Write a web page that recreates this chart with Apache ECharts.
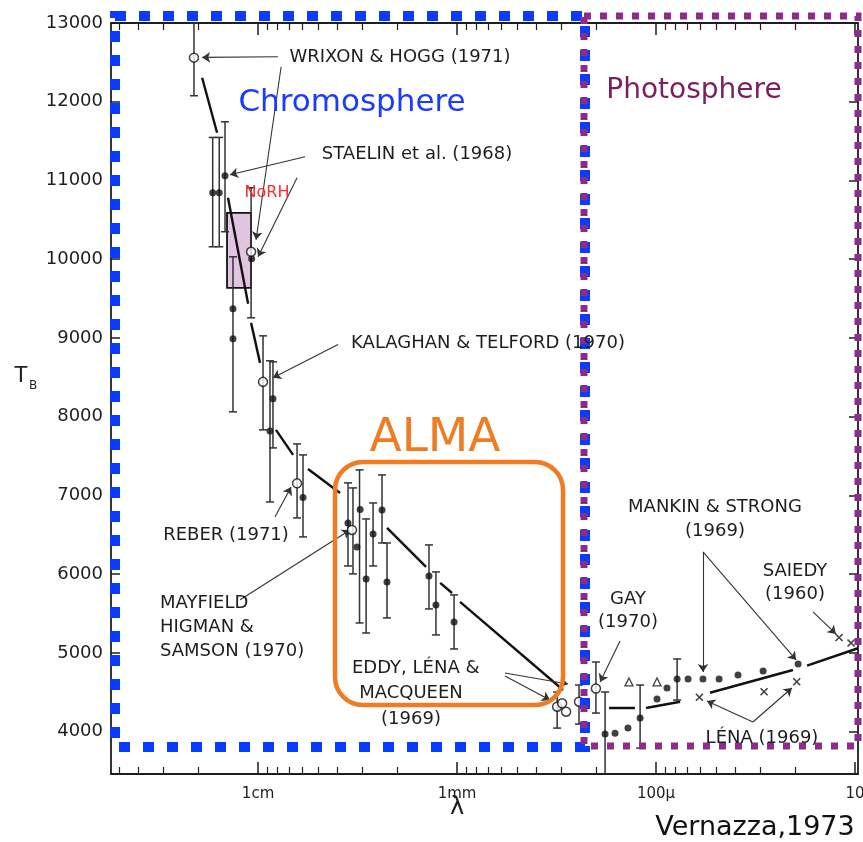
<!DOCTYPE html>
<html>
<head>
<meta charset="utf-8">
<script src="https://cdn.jsdelivr.net/npm/echarts@6/dist/echarts.min.js"></script>
<style>
  html, body { margin: 0; padding: 0; background: #fff; }
  #chart { width: 863px; height: 842px; }
</style>
</head>
<body>
<div id="chart"></div>
<script>
'use strict';

// x = log10(wavelength in microns), y = brightness temperature (K)
var X_MIN = 0.985, X_MAX = 4.739;
var Y_MIN = 3463, Y_MAX = 13000;

var xLabelValues = [4, 3, 2, 1];
var xLabelNames = ['1cm', '1mm', '100\u03bc', '10'];
var yLabelValues = [4000, 5000, 6000, 7000, 8000, 9000, 10000, 11000, 12000, 13000];

// measured points
var dots = [
  [4.228, 10844], [4.195, 10844], [4.166, 11060], [4.126, 9370], [4.126, 8989],
  [4.032, 10006], [3.940, 7820], [3.925, 8227], [3.774, 6975],
  [3.548, 6651], [3.487, 6823], [3.503, 6347], [3.457, 5940], [3.422, 6511],
  [3.377, 6816], [3.352, 5902], [3.141, 5978], [3.106, 5610], [3.015, 5394],
  [2.256, 3970], [2.206, 3982], [2.141, 4046], [2.080, 4174], [1.995, 4415],
  [1.945, 4555], [1.894, 4669], [1.839, 4669], [1.764, 4669], [1.683, 4669],
  [1.588, 4720], [1.462, 4771], [1.286, 4860]
];
var circles = [
  [4.322, 12560], [4.035, 10094], [3.975, 8443], [3.804, 7154], [3.528, 6562],
  [2.497, 4318], [2.472, 4361], [2.452, 4254], [2.387, 4381], [2.302, 4549]
];
var triangles = [[2.136, 4632], [1.995, 4632]];
var crosses = [[1.782, 4437], [1.457, 4508], [1.293, 4635], [1.080, 5197], [1.020, 5127]];

// error bars: [x, low, high]
var bars = [
  [4.322, 12076, 13000], [4.228, 10158, 11547], [4.195, 10158, 11547],
  [4.166, 10349, 11746], [4.126, 8062, 10031], [4.035, 9256, 10908],
  [3.975, 7833, 9027], [3.940, 6918, 8710], [3.925, 7604, 8697],
  [3.804, 6715, 7655], [3.774, 6474, 7515],
  [3.548, 6105, 7160], [3.523, 6004, 7096], [3.490, 5381, 7325],
  [3.457, 5254, 6702], [3.422, 6105, 6905], [3.377, 6397, 7261],
  [3.352, 5445, 6397], [3.141, 5559, 6372], [3.106, 5229, 6029],
  [3.015, 5051, 5737],
  [2.497, 4046, 4504], [2.387, 4097, 4593], [2.302, 4237, 4885],
  [2.256, 3463, 4504], [2.080, 3792, 4593], [1.894, 4402, 4924]
];

// model curve, drawn in pieces
var curve = [
  [[4.281, 12305], [4.206, 11606]],
  [[4.151, 10781], [4.050, 9434]],
  [[4.035, 9192], [3.990, 8684]],
  [[3.910, 7833], [3.824, 7515]],
  [[3.749, 7337], [3.588, 7032]],
  [[3.352, 6588], [3.156, 6093]],
  [[3.085, 5890], [3.025, 5762]],
  [[2.985, 5648], [2.467, 4530]],
  [[2.236, 4301], [2.106, 4301]],
  [[2.050, 4301], [1.879, 4381]],
  [[1.729, 4495], [1.312, 4784]],
  [[1.241, 4838], [0.985, 5060]]
];

// label pointers
var arrows = [
  [[3.900, 12572], [4.281, 12563]],
  [[3.884, 12445], [4.010, 10247]],
  [[3.764, 11301], [4.141, 11073]],
  [[3.804, 11035], [4.000, 10031]],
  [[3.598, 8916], [3.925, 8494]],
  [[3.915, 6727], [3.834, 7109]],
  [[4.090, 5675], [3.538, 6562]],
  [[2.759, 4746], [2.442, 4606]],
  [[2.759, 4708], [2.533, 4402]],
  [[2.181, 5152], [2.281, 4631]],
  [[1.764, 6283], [1.764, 4758]],
  [[1.764, 6283], [1.296, 4911]],
  [[1.211, 5522], [1.096, 5242]],
  [[1.513, 4123], [1.744, 4390]],
  [[1.513, 4123], [1.317, 4555]]
];

// NoRH box [x1, y1], [x2, y2]
var norhBox = [[4.156, 10590], [4.035, 9637]];

// minor ticks of the log axis
var minorTicks = [];
for (var k = 1; k <= 4; k++) {
  for (var m = 2; m <= 9; m++) {
    var v = k + Math.log10(m);
    if (v > X_MIN && v < X_MAX) minorTicks.push(v);
  }
}

var FONT = '"DejaVu Sans", sans-serif';
var INK = '#1e1e1e';

function renderBar(params, api) {
  var x = api.value(0), lo = api.value(1), hi = api.value(2);
  var top = api.coord([x, hi]);
  var bot = api.coord([x, Math.max(lo, Y_MIN)]);
  var cap = 4;
  var st = { stroke: '#333', lineWidth: 1.5 };
  var kids = [
    { type: 'line', shape: { x1: top[0], y1: top[1], x2: bot[0], y2: bot[1] }, style: st },
    { type: 'line', shape: { x1: top[0] - cap, y1: top[1], x2: top[0] + cap, y2: top[1] }, style: st }
  ];
  if (lo > Y_MIN) {
    kids.push({ type: 'line', shape: { x1: bot[0] - cap, y1: bot[1], x2: bot[0] + cap, y2: bot[1] }, style: st });
  }
  return { type: 'group', children: kids };
}

function txt(s, x, y, size, color, align, weight) {
  return {
    type: 'text', z: 100,
    style: {
      text: s, x: x, y: y,
      font: (weight || 'normal') + ' ' + size + 'px ' + FONT,
      fill: color || INK,
      textAlign: align || 'center',
      textVerticalAlign: 'middle'
    }
  };
}

var axisLine = { show: true, lineStyle: { color: INK, width: 1.8 } };
var LBL = 18;

var chart = echarts.init(document.getElementById('chart'));
var option = {
  animation: false,
  backgroundColor: '#fff',
  grid: { left: 111, right: 5, top: 23, bottom: 68, containLabel: false, outerBoundsMode: 'none' },
  xAxis: [
    {
      type: 'value', min: X_MIN, max: X_MAX, inverse: true, position: 'bottom',
      axisLine: axisLine, splitLine: { show: false },
      axisTick: { inside: true, length: 12, customValues: xLabelValues, lineStyle: { color: INK, width: 1.5 } },
      axisLabel: {
        customValues: xLabelValues, margin: 13, color: INK, fontSize: 15, fontFamily: FONT,
        formatter: function (v) { return xLabelNames[xLabelValues.indexOf(Math.round(v))]; }
      }
    },
    {
      type: 'value', min: X_MIN, max: X_MAX, inverse: true, position: 'bottom',
      axisLine: { show: false }, splitLine: { show: false }, axisLabel: { show: false },
      axisTick: { inside: true, length: 7, customValues: minorTicks, lineStyle: { color: INK, width: 1.2 } }
    },
    {
      type: 'value', min: X_MIN, max: X_MAX, inverse: true, position: 'top',
      axisLine: axisLine, splitLine: { show: false }, axisLabel: { show: false },
      axisTick: { inside: true, length: 12, customValues: xLabelValues, lineStyle: { color: INK, width: 1.5 } }
    },
    {
      type: 'value', min: X_MIN, max: X_MAX, inverse: true, position: 'top',
      axisLine: { show: false }, splitLine: { show: false }, axisLabel: { show: false },
      axisTick: { inside: true, length: 7, customValues: minorTicks, lineStyle: { color: INK, width: 1.2 } }
    }
  ],
  yAxis: [
    {
      type: 'value', min: Y_MIN, max: Y_MAX, position: 'left',
      axisLine: axisLine, splitLine: { show: false },
      axisTick: { inside: true, length: 9, customValues: yLabelValues, lineStyle: { color: INK, width: 1.5 } },
      axisLabel: {
        customValues: yLabelValues, margin: 8, color: INK, fontSize: 18, fontFamily: FONT,
        formatter: function (v) { return String(Math.round(v)); }
      }
    },
    {
      type: 'value', min: Y_MIN, max: Y_MAX, position: 'right',
      axisLine: axisLine, splitLine: { show: false }, axisLabel: { show: false },
      axisTick: { inside: true, length: 9, customValues: yLabelValues, lineStyle: { color: INK, width: 1.5 } }
    }
  ],
  series: [
    {
      type: 'custom', name: 'bars', renderItem: renderBar, data: bars,
      encode: { x: 0, y: [1, 2] }, z: 3,
      markArea: {
        silent: true,
        itemStyle: { color: 'rgba(205,160,205,0.62)', borderColor: '#111', borderWidth: 1.8 },
        data: [[{ coord: norhBox[0] }, { coord: norhBox[1] }]]
      }
    },
    {
      type: 'lines', coordinateSystem: 'cartesian2d', name: 'curve', z: 4,
      lineStyle: { color: '#111', width: 2.4, opacity: 1 },
      data: curve.map(function (c) { return { coords: c }; })
    },
    {
      type: 'lines', coordinateSystem: 'cartesian2d', name: 'arrows', z: 4,
      symbol: ['none', 'arrow'], symbolSize: [0, 8],
      lineStyle: { color: '#333', width: 1.1, opacity: 1 },
      data: arrows.map(function (c) { return { coords: c }; })
    },
    {
      type: 'scatter', name: 'dots', data: dots, symbol: 'circle', symbolSize: 7, z: 5,
      itemStyle: { color: '#111' }
    },
    {
      type: 'scatter', name: 'circles', data: circles, symbol: 'circle', symbolSize: 9, z: 6,
      itemStyle: { color: '#fff', borderColor: '#111', borderWidth: 1.5 }
    },
    {
      type: 'scatter', name: 'triangles', data: triangles, symbol: 'triangle', symbolSize: 8, z: 6,
      itemStyle: { color: '#fff', borderColor: '#111', borderWidth: 1.3 }
    },
    {
      type: 'scatter', name: 'crosses', data: crosses, symbol: 'path://M0,0L10,10M10,0L0,10', symbolSize: 7, z: 6,
      itemStyle: { color: 'transparent', borderColor: '#111', borderWidth: 1.6 }
    }
  ],
  graphic: [
    // region boxes
    {
      type: 'rect', z: 90, shape: { x: 115, y: 16, width: 470, height: 731 },
      style: { fill: null, stroke: '#0a3cff', lineWidth: 10, lineDash: [11, 13] }
    },
    {
      type: 'rect', z: 91, shape: { x: 584, y: 16, width: 274, height: 730 },
      style: { fill: null, stroke: '#8e2a8e', lineWidth: 7, lineDash: [7, 9] }
    },
    {
      type: 'rect', z: 92, shape: { x: 335, y: 462, width: 228, height: 243, r: 28 },
      style: { fill: null, stroke: '#ef7b22', lineWidth: 4.5 }
    },
    txt('Chromosphere', 352, 103, 31, '#1a3cff'),
    txt('Photosphere', 694, 91, 28, '#7b1f5f'),
    txt('NoRH', 267, 193, 16, '#ff2a2a'),
    txt('ALMA', 435, 439, 47, '#ef7b22'),
    txt('Vernazza,1973', 755, 828, 27, '#111'),
    // source labels
    txt('WRIXON & HOGG (1971)', 400, 57, LBL),
    txt('STAELIN et al. (1968)', 417, 154, LBL),
    txt('KALAGHAN & TELFORD (1970)', 488, 343, LBL),
    txt('REBER (1971)', 226, 535, LBL),
    txt('MAYFIELD', 160, 603, LBL, INK, 'left'),
    txt('HIGMAN &', 160, 627, LBL, INK, 'left'),
    txt('SAMSON (1970)', 160, 651, LBL, INK, 'left'),
    txt('EDDY, L\u00c9NA &', 352, 668, LBL, INK, 'left'),
    txt('MACQUEEN', 411, 693, LBL),
    txt('(1969)', 411, 719, LBL),
    txt('GAY', 628, 599, LBL),
    txt('(1970)', 628, 622, LBL),
    txt('MANKIN & STRONG', 715, 507, LBL),
    txt('(1969)', 715, 531, LBL),
    txt('SAIEDY', 795, 571, LBL),
    txt('(1960)', 795, 594, LBL),
    txt('L\u00c9NA (1969)', 762, 738, LBL),
    // axis names
    txt('\u03bb', 457, 808, 24),
    txt('T', 21, 377, 21),
    txt('B', 33, 386, 12)
  ]
};
chart.setOption(option);
</script>
</body>
</html>
